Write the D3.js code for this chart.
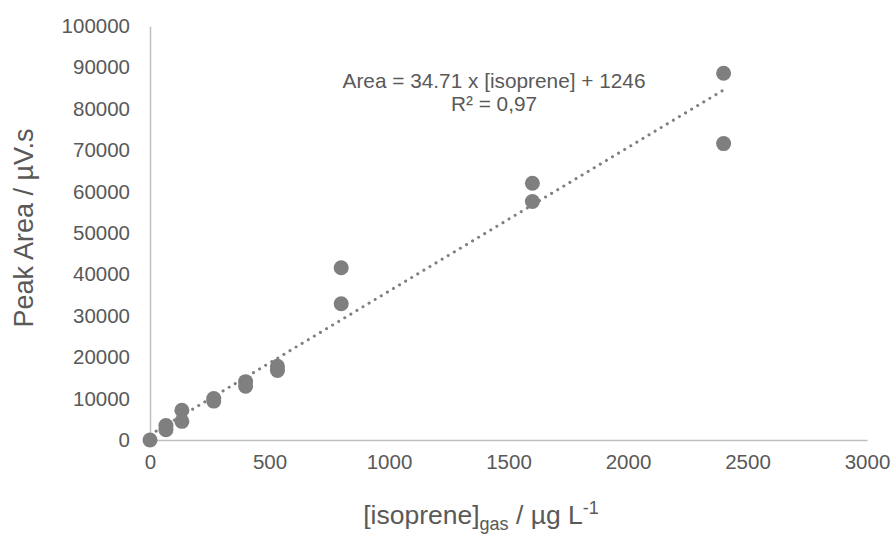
<!DOCTYPE html>
<html>
<head>
<meta charset="utf-8">
<script src="https://cdn.jsdelivr.net/npm/d3@7"></script>
<style>
  body { margin: 0; background: #fff; }
  text { font-family: "Liberation Sans", Arial, sans-serif; fill: #595959; }
</style>
</head>
<body>
<svg id="chart"></svg>
<script>
// measured calibration points (x = concentration, y = peak area)
const concentrations = [0, 66.7, 66.7, 133.3, 133.3, 266.7, 266.7, 400, 400, 533.3, 533.3, 800, 800, 1600, 1600, 2400, 2400];
const peakAreas = [0, 3500, 2500, 7200, 4500, 10000, 9400, 14100, 13000, 17800, 16800, 41600, 32900, 62000, 57600, 88600, 71600];
const xTicks = [0, 500, 1000, 1500, 2000, 2500, 3000];
const yTicks = [0, 10000, 20000, 30000, 40000, 50000, 60000, 70000, 80000, 90000, 100000];
const slope = 34.71;
const intercept = 1246;
const fitRange = [0, 2400];

const width = 894, height = 538;
const margin = { top: 26, right: 27, bottom: 98, left: 150 };

const svg = d3.select("#chart").attr("width", width).attr("height", height);

const x = d3.scaleLinear().domain([0, 3000]).range([margin.left, width - margin.right]);
const y = d3.scaleLinear().domain([0, 100000]).range([height - margin.bottom, margin.top]);

const points = concentrations.map((c, i) => ({ x: c, y: peakAreas[i] }));

// axes
const xAxis = svg.append("g")
  .attr("transform", `translate(0, ${y(0)})`)
  .call(d3.axisBottom(x).tickValues(xTicks).tickSize(0).tickPadding(14).tickFormat(d3.format("d")));
const yAxis = svg.append("g")
  .attr("transform", `translate(${x(0)}, 0)`)
  .call(d3.axisLeft(y).tickValues(yTicks).tickSize(0).tickPadding(20).tickFormat(d3.format("d")));

[xAxis, yAxis].forEach((g) => {
  g.select(".domain").attr("stroke", "#bfbfbf").attr("stroke-width", 1.5);
  g.selectAll("text").attr("font-size", 20.5).attr("fill", "#595959")
    .style("font-family", '"Liberation Sans", Arial, sans-serif');
});

// trend line
const line = d3.line().x((d) => x(d)).y((d) => y(slope * d + intercept));
svg.append("path")
  .datum(fitRange)
  .attr("d", line)
  .attr("fill", "none")
  .attr("stroke", "#7f7f7f")
  .attr("stroke-width", 3)
  .attr("stroke-linecap", "round")
  .attr("stroke-dasharray", "0.1 7");

// points
svg.append("g")
  .selectAll("circle")
  .data(points)
  .join("circle")
  .attr("cx", (d) => x(d.x))
  .attr("cy", (d) => y(d.y))
  .attr("r", 7.5)
  .attr("fill", "#7f7f7f");

// equation (two separate lines)
svg.append("text").attr("text-anchor", "middle").attr("font-size", 20.8)
  .attr("x", 494).attr("y", 88).text("Area = 34.71 x [isoprene] + 1246");
svg.append("text").attr("text-anchor", "middle").attr("font-size", 20.8)
  .attr("x", 494).attr("y", 111).text("R² = 0,97");

// axis titles
svg.append("text")
  .attr("transform", `translate(33, 228) rotate(-90)`)
  .attr("text-anchor", "middle")
  .attr("font-size", 27)
  .text("Peak Area / µV.s");

const xt = svg.append("text")
  .attr("x", 481)
  .attr("y", 524)
  .attr("text-anchor", "middle")
  .attr("font-size", 26.5);
xt.append("tspan").text("[isoprene]");
xt.append("tspan").attr("font-size", 18).attr("dy", 6).text("gas");
xt.append("tspan").attr("dy", -6).text(" / µg L");
xt.append("tspan").attr("font-size", 18).attr("dy", -10).text("-1");
</script>
</body>
</html>
